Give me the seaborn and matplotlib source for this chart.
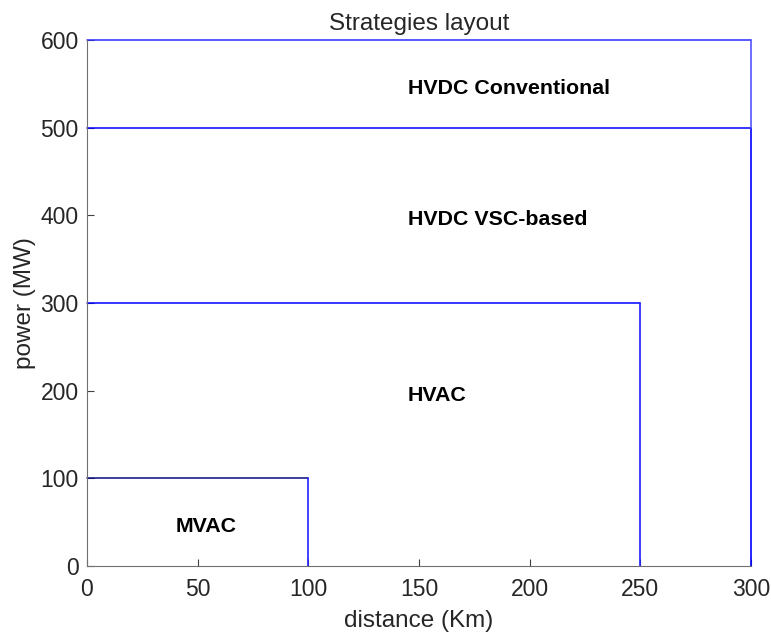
import matplotlib
matplotlib.use("Agg")
import matplotlib.pyplot as plt
import seaborn as sns
import pandas as pd

sns.set_theme(style="white")
plt.rcParams['font.family'] = ['Liberation Sans', 'DejaVu Sans']

# region boundaries (distance km, power MW)
region_names = ["MVAC", "HVAC", "HVDC VSC-based", "HVDC Conventional"]
max_distance = [100, 250, 300, 300]
max_power = [100, 300, 500, 600]
min_power_vertical = [0, 0, 0, 500]
label_x = [40, 145, 145, 145]
label_y = [45, 195, 395, 545]
x_ticks = [0, 50, 100, 150, 200, 250, 300]
y_ticks = [0, 100, 200, 300, 400, 500, 600]

fig = plt.figure(figsize=(7.71, 6.37), dpi=100)
ax = fig.add_axes([0.1128, 0.1115, 0.8612, 0.8255])

hcolors = ["#0a0a80", "#0000ff", "#0000ff", "#2a2aff"]
vcolors = ["#2020ff", "#2020ff", "#0000ff", "#5555ff"]
for i in range(len(region_names)):
    dh = pd.DataFrame({"x": [0, max_distance[i]], "y": [max_power[i], max_power[i]]})
    sns.lineplot(data=dh, x="x", y="y", ax=ax, color=hcolors[i], lw=1.1, sort=False,
                 estimator=None, clip_on=False)
    dv = pd.DataFrame({"x": [max_distance[i], max_distance[i]], "y": [min_power_vertical[i], max_power[i]]})
    sns.lineplot(data=dv, x="x", y="y", ax=ax, color=vcolors[i], lw=1.2, sort=False,
                 estimator=None, clip_on=False)
    ax.text(label_x[i], label_y[i], region_names[i], fontsize=15.4, fontweight="bold",
            ha="left", va="center", color="black")

ax.set_xlim(0, 300)
ax.set_ylim(0, 600)
ax.set_xticks(x_ticks)
ax.set_yticks(y_ticks)
ax.tick_params(direction="in", length=5, width=0.8, colors="#404040", labelsize=16.5,
               labelcolor="#262626", left=True, bottom=True)
ax.tick_params(axis="x", pad=9)
ax.tick_params(axis="y", pad=6)
for s in ["top", "right"]:
    ax.spines[s].set_visible(False)
for s in ["left", "bottom"]:
    ax.spines[s].set_color("#707070")
    ax.spines[s].set_linewidth(0.8)
ax.set_xlabel("distance (Km)", fontsize=17.5, color="#262626", labelpad=6)
ax.set_ylabel("power (MW)", fontsize=17.5, color="#262626", labelpad=3)
ax.set_title("Strategies layout", fontsize=17.5, color="#262626", pad=7)

fig.savefig("out.png", dpi=100)
